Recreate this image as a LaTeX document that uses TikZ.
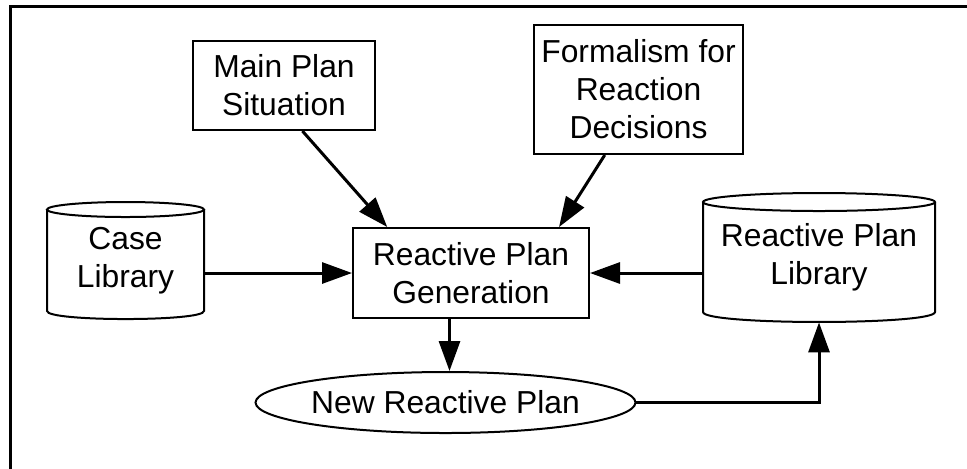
\documentclass[tikz,border=0pt]{standalone}
\usepackage{fontspec}
\setmainfont{Liberation Sans}
\usetikzlibrary{arrows.meta,shapes.geometric,calc}
\begin{document}
\begin{tikzpicture}[x=0.5pt,y=-0.5pt,
  lbl/.style={font=\fontsize{15.9}{19}\selectfont, align=center, inner sep=0pt},
  boxnode/.style={lbl, draw, line width=1pt, rectangle},
  arr/.style={line width=1.5pt, -{Triangle[length=15pt,width=10.5pt]}},
  cyl/.style={line width=1pt}]
\useasboundingbox (0,0) rectangle (967,468);
% outer frame
\draw[line width=1.5pt] (10,490) -- (10,6.7) -- (990,6.7);

% boxes
\node[boxnode, minimum width=91pt, minimum height=44.5pt] (mps) at (284,85.5) {Main Plan\\Situation};
\node[boxnode, minimum width=104.5pt, minimum height=64.5pt] (form) at (638.5,89.5) {Formalism for\\Reaction\\Decisions};
\node[boxnode, minimum width=118pt, minimum height=45pt] (gen) at (471,273) {Reactive Plan\\Generation};

% case library cylinder
\draw[cyl] (47,209.5) -- (47,311) .. controls (47,321.7) and (204,321.7) .. (204,311) -- (204,209.5);
\draw[cyl] (125.5,209.5) ellipse [x radius=39.25pt, y radius=3.75pt];
\node[lbl, minimum width=78.5pt, minimum height=58.5pt] (case) at (125.5,260.5) {Case\\Library};

% reactive plan library cylinder
\draw[cyl] (703,202) -- (703,312) .. controls (703,325.3) and (935,325.3) .. (935,312) -- (935,202);
\draw[cyl] (819,202) ellipse [x radius=58pt, y radius=4.5pt];
\node[lbl, minimum width=116pt, minimum height=64.5pt] (rpl) at (819,257.5) {Reactive Plan\\Library};

% new reactive plan ellipse
\node[lbl, ellipse, draw, line width=1pt, minimum width=178.5pt, minimum height=30.5pt] (new) at (445.5,402.5) {New Reactive Plan};

% connectors
\draw[arr] ($(mps.south west)!0.6!(mps.south east)$) -- ($(gen.north west)!0.148!(gen.north east)$);
\draw[arr] ($(form.south west)!0.34!(form.south east)$) -- ($(gen.north west)!0.87!(gen.north east)$);
\draw[arr] (gen.west -| case.east) -- (gen.west);
\draw[arr] (gen.east -| rpl.west) -- (gen.east);
\draw[arr] ([xshift=2pt]new.north |- gen.south) -- ([xshift=2pt]new.north);
\draw[arr] (new.east) -- (new.east -| rpl.south) -- (rpl.south);
\end{tikzpicture}
\end{document}
